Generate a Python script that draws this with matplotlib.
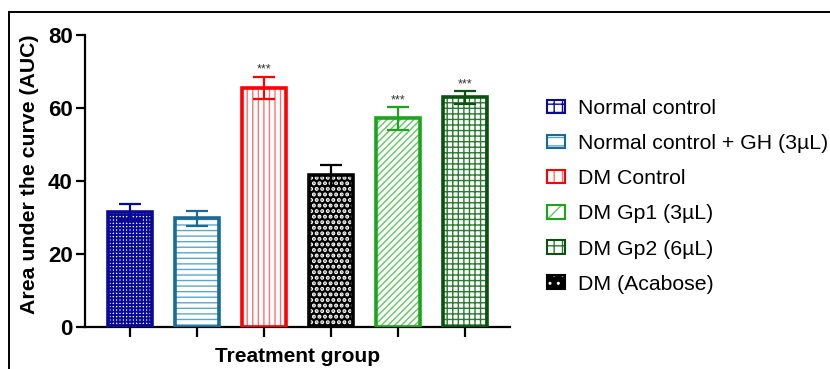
import numpy as np
import matplotlib
matplotlib.use("Agg")
import matplotlib.pyplot as plt
from matplotlib.patches import Patch
from matplotlib.legend_handler import HandlerTuple
from matplotlib.lines import Line2D

plt.rcParams['font.family'] = ['Liberation Sans', 'DejaVu Sans']
plt.rcParams['hatch.linewidth'] = 1.0

# data
groups = ['Normal control', 'Normal control + GH (3µL)', 'DM Control',
          'DM (Acabose)', 'DM Gp1 (3µL)', 'DM Gp2 (6µL)']
auc_mean = [31.5, 29.8, 65.6, 41.6, 57.2, 62.9]
auc_sem = [2.1, 2.0, 3.0, 2.9, 3.1, 1.8]
signif = ['', '', '***', '', '***', '***']
legend_order = [0, 1, 2, 4, 5, 3]

# styles: (outline, face, hatch colour, hatch, hatch lw)
styles = [
    ('#0a0a9a', 'white', '#0a0a9a', '+++++', 1.4),
    ('#1a6a96', 'white', '#5aa8cc', '---', 1.0),
    ('#ff0000', 'white', '#ff7070', '|||', 1.0),
    ('#000000', '#000000', 'white', '...', 2.0),
    ('#1aa51a', 'white', '#60c860', '/////', 1.0),
    ('#0b5212', 'white', '#2a7a30', '+++', 1.0),
]

fig = plt.figure(figsize=(8.3, 3.69), dpi=100)
ax = fig.add_axes([85/830, 1-327/369, (510-85)/830, (327-35)/369])

x = np.arange(len(groups))
width = 0.66
for i in range(len(groups)):
    edge, face, hcol, hatch, hlw = styles[i]
    bars = ax.bar(x[i], auc_mean[i], width, color=face, edgecolor=hcol,
                  linewidth=0, hatch=hatch, zorder=2)
    if hasattr(bars[0], 'set_hatch_linewidth'):
        bars[0].set_hatch_linewidth(hlw)
    ax.bar(x[i], auc_mean[i], width, fill=False, edgecolor=edge, linewidth=2.6,
           zorder=3)
    ax.errorbar(x[i], auc_mean[i], yerr=auc_sem[i], color=edge, capsize=8,
                elinewidth=1.6, capthick=1.6, zorder=4, fmt='none')
    if signif[i]:
        ax.text(x[i], auc_mean[i] + auc_sem[i] + 0.2, signif[i], ha='center',
                va='bottom', fontsize=9, color='#333333')

ax.set_xlim(-0.67, 5.67)
ax.set_ylim(0, 80)
ax.set_yticks([0, 20, 40, 60, 80])
ax.set_xticks(x)
ax.set_xticklabels([])
for s in ['top', 'right']:
    ax.spines[s].set_visible(False)
for s in ['left', 'bottom']:
    ax.spines[s].set_linewidth(1.6)
ax.tick_params(axis='both', width=1.6, direction='out')
ax.tick_params(axis='y', length=6.5, pad=2.5, labelsize=16)
ax.tick_params(axis='x', length=7)
for lab in ax.get_yticklabels():
    lab.set_fontweight('bold')
ax.set_ylabel('Area under the curve (AUC)', fontsize=15.3, fontweight='bold')
ax.yaxis.set_label_coords(-0.108, 0.524)
ax.set_xlabel('Treatment group', fontsize=15, fontweight='bold', labelpad=4)

# legend
handles = []
labels = []
for i in legend_order:
    edge, face, hcol, hatch, hlw = styles[i]
    p1 = Patch(facecolor=face, edgecolor=hcol, linewidth=0, hatch=hatch[:2])
    p2 = Patch(fill=False, edgecolor=edge, linewidth=1.5)
    handles.append((p1, p2))
    labels.append(groups[i])
fig.legend(handles, labels, loc='center left', bbox_to_anchor=(547/830, 0.468),
           frameon=False, fontsize=15.3, handlelength=0.85, handleheight=0.6,
           handletextpad=0.6, labelspacing=0.76, borderpad=0, borderaxespad=0,
           handler_map={tuple: HandlerTuple(ndivide=1, pad=0)})

# outer border (top and left only visible)
fig.add_artist(Line2D([9/830, 1], [1-12/369, 1-12/369], color='black', lw=1.4,
                      transform=fig.transFigure))
fig.add_artist(Line2D([9/830, 9/830], [0, 1-12/369], color='black', lw=1.4,
                      transform=fig.transFigure))

fig.savefig('out.png', dpi=100)
